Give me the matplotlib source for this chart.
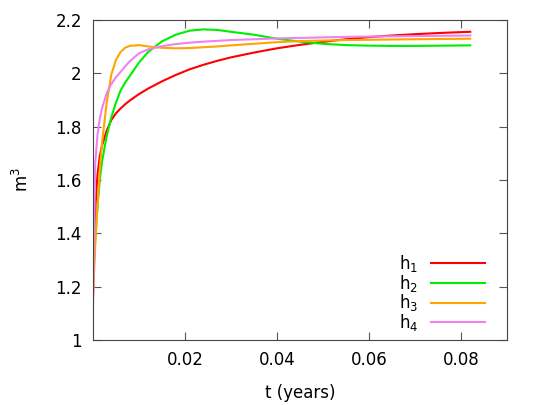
import matplotlib
matplotlib.use("Agg")
import matplotlib.pyplot as plt

# time grid (years) and the four series
t = [0, 0.0005, 0.001, 0.0015, 0.002, 0.003, 0.004, 0.005, 0.006, 0.007,
     0.008, 0.010, 0.012, 0.015, 0.018, 0.021, 0.024, 0.027, 0.030, 0.035,
     0.040, 0.045, 0.050, 0.055, 0.060, 0.065, 0.070, 0.076, 0.082]

h1 = [1.15, 1.48, 1.62, 1.69, 1.73, 1.785, 1.825, 1.85, 1.868, 1.884,
      1.898, 1.922, 1.943, 1.97, 1.994, 2.015, 2.032, 2.047, 2.06, 2.078,
      2.094, 2.107, 2.118, 2.128, 2.136, 2.142, 2.147, 2.152, 2.156]

h2 = [1.2, 1.38, 1.5, 1.6, 1.67, 1.765, 1.835, 1.89, 1.935, 1.965,
      1.99, 2.04, 2.08, 2.12, 2.145, 2.16, 2.165, 2.163, 2.156, 2.145,
      2.13, 2.119, 2.111, 2.106, 2.104, 2.103, 2.103, 2.104, 2.105]

h3 = [1.15, 1.35, 1.5, 1.64, 1.74, 1.89, 1.995, 2.05, 2.08, 2.096,
      2.103, 2.106, 2.101, 2.096, 2.094, 2.095, 2.098, 2.101, 2.105, 2.111,
      2.117, 2.121, 2.123, 2.125, 2.126, 2.127, 2.128, 2.129, 2.13]

h4 = [1.1, 1.66, 1.77, 1.83, 1.87, 1.925, 1.96, 1.985, 2.005, 2.026,
      2.045, 2.075, 2.09, 2.102, 2.11, 2.115, 2.119, 2.122, 2.125, 2.128,
      2.131, 2.133, 2.135, 2.137, 2.138, 2.139, 2.14, 2.141, 2.142]

labels = ["h$_1$", "h$_2$", "h$_3$", "h$_4$"]
colors = ["#ff0000", "#00ee00", "#ffa500", "#ee82ee"]

xticks = [0.02, 0.04, 0.06, 0.08]
xticklabels = ["0.02", "0.04", "0.06", "0.08"]
yticks = [1, 1.2, 1.4, 1.6, 1.8, 2, 2.2]
yticklabels = ["1", "1.2", "1.4", "1.6", "1.8", "2", "2.2"]

fig = plt.figure(figsize=(5.4, 4.05), dpi=100)
ax = fig.add_axes([0.172, 0.1605, 0.767, 0.79])

for ys, lab, c in zip([h1, h2, h3, h4], labels, colors):
    ax.plot(t, ys, color=c, lw=1.5, label=lab)

ax.set_xlim(0, 0.09)
ax.set_ylim(1, 2.2)
ax.set_xticks(xticks)
ax.set_xticklabels(xticklabels)
ax.set_yticks(yticks)
ax.set_yticklabels(yticklabels)
ax.tick_params(direction="in", length=6, width=0.8, color="#555555",
               top=True, right=True, labelsize=12, pad=8)
for s in ax.spines.values():
    s.set_color("#444444")
    s.set_linewidth(0.8)

ax.set_xlabel("t (years)", fontsize=12, labelpad=11)
ax.set_ylabel("m$^3$", fontsize=12, labelpad=17)

ax.legend(loc="lower right", frameon=False, markerfirst=False, fontsize=12,
          handlelength=3.2, labelspacing=-0.07, handletextpad=0.8,
          bbox_to_anchor=(0.982, -0.026))

fig.savefig("out.png", dpi=100)
